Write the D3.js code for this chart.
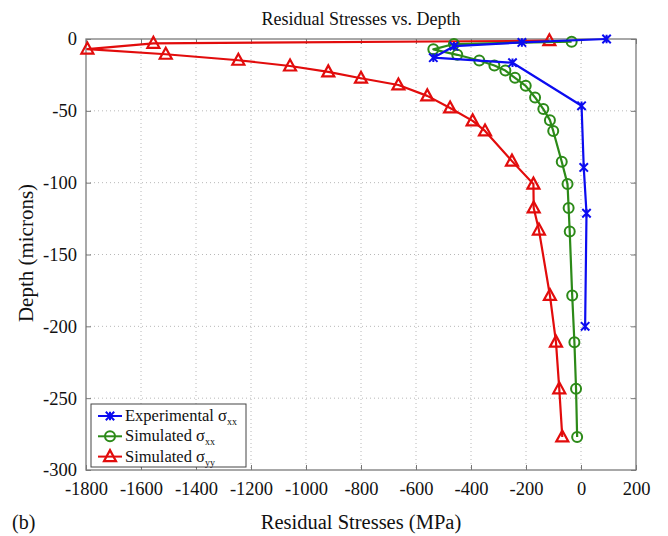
<!DOCTYPE html>
<html>
<head>
<meta charset="utf-8">
<script src="https://cdn.jsdelivr.net/npm/d3@7"></script>
<style>
  html, body { margin: 0; padding: 0; background: #ffffff; }
  svg { display: block; }
  svg text { font-family: "Liberation Serif", "DejaVu Serif", serif; }
</style>
</head>
<body>
<svg id="chart" width="668" height="536"></svg>
<script>
// Residual stress profiles: [stress (MPa), depth (microns)]
const experimentalSxx = [
  [93, 0], [-215, -2.4], [-462, -5], [-537, -13], [-249, -16.5],
  [2, -46.5], [10, -89.4], [20, -121.3], [15, -200]
];
const simulatedSxx = [
  [-34, -1.9], [-462, -3.5], [-537, -7.2], [-450, -11], [-370, -15],
  [-315, -18.5], [-275, -22], [-240, -27], [-201, -32.6], [-167, -40.7],
  [-137, -48.8], [-113, -56.5], [-101, -64], [-70, -85.4], [-49, -101],
  [-45, -117.6], [-41, -134], [-32, -178.5], [-24, -211], [-18, -243.5],
  [-14, -277]
];
const simulatedSyy = [
  [-115, -1.2], [-1555, -3], [-1795, -7], [-1510, -10.6], [-1246, -14.8],
  [-1058, -18.8], [-919, -22.9], [-800, -27.3], [-664, -32], [-559, -39.6],
  [-476, -48], [-394, -57], [-349, -64], [-251, -85], [-173, -101],
  [-172, -117.6], [-153, -133], [-113, -178.5], [-91, -211], [-79, -243.5],
  [-68, -277]
];

const xTicks = [-1800, -1600, -1400, -1200, -1000, -800, -600, -400, -200, 0, 200];
const yTicks = [0, -50, -100, -150, -200, -250, -300];

const series = [
  { name: "Experimental", sub: "xx", data: experimentalSxx, color: "#0c0cf0", marker: "x" },
  { name: "Simulated", sub: "xx", data: simulatedSxx, color: "#2c8a18", marker: "o" },
  { name: "Simulated", sub: "yy", data: simulatedSyy, color: "#e20c0c", marker: "^" }
];

const svg = d3.select("#chart");
const plot = { left: 86, right: 636, top: 39, bottom: 470 };

const x = d3.scaleLinear().domain([-1800, 200]).range([plot.left, plot.right]);
const y = d3.scaleLinear().domain([-300, 0]).range([plot.bottom, plot.top]);

// dotted grid
const grid = svg.append("g");
grid.selectAll("line.gx").data(xTicks.slice(1, -1)).join("line")
  .attr("x1", d => x(d)).attr("x2", d => x(d))
  .attr("y1", plot.top).attr("y2", plot.bottom)
  .attr("stroke", "#b8b8b8").attr("stroke-width", 1).attr("stroke-dasharray", "1,3");
grid.selectAll("line.gy").data(yTicks.slice(1, -1)).join("line")
  .attr("y1", d => y(d)).attr("y2", d => y(d))
  .attr("x1", plot.left).attr("x2", plot.right)
  .attr("stroke", "#b8b8b8").attr("stroke-width", 1).attr("stroke-dasharray", "1,3");

// axes with inward ticks; labels use a plain hyphen for negatives
const fmt = d => String(d);
const xAxis = svg.append("g").attr("transform", `translate(0,${plot.bottom})`)
  .call(d3.axisBottom(x).tickValues(xTicks).tickSizeInner(-5).tickSizeOuter(0).tickPadding(12).tickFormat(fmt));
const yAxis = svg.append("g").attr("transform", `translate(${plot.left},0)`)
  .call(d3.axisLeft(y).tickValues(yTicks).tickSizeInner(-5).tickSizeOuter(0).tickPadding(9).tickFormat(fmt));
svg.append("g").attr("transform", `translate(0,${plot.top})`)
  .call(d3.axisTop(x).tickValues(xTicks).tickSizeInner(-5).tickSizeOuter(0).tickFormat(""));
svg.append("g").attr("transform", `translate(${plot.right},0)`)
  .call(d3.axisRight(y).tickValues(yTicks).tickSizeInner(-5).tickSizeOuter(0).tickFormat(""));

svg.selectAll(".domain").remove();
svg.selectAll(".tick line").attr("stroke", "#777");
[xAxis, yAxis].forEach(a => a.selectAll("text")
  .style("font-family", "'Liberation Serif', serif").style("font-size", "18.5px").attr("fill", "#111"));
xAxis.selectAll("text").attr("dy", "0.71em");

// plot frame
svg.append("rect")
  .attr("x", plot.left).attr("y", plot.top)
  .attr("width", plot.right - plot.left).attr("height", plot.bottom - plot.top)
  .attr("fill", "none").attr("stroke", "#7a7a7a").attr("stroke-width", 1.3);

// markers
function drawMarker(g, type, color) {
  if (type === "x") {
    const s = 4.2;
    g.append("path").attr("d", `M${-s},${-s}L${s},${s}M${-s},${s}L${s},${-s}M0,${-s}L0,${s}`)
      .attr("stroke", color).attr("stroke-width", 2).attr("fill", "none");
  } else if (type === "o") {
    g.append("circle").attr("r", 5).attr("fill", "none")
      .attr("stroke", color).attr("stroke-width", 2);
  } else {
    g.append("path").attr("d", "M0,-6.5L6,4.5L-6,4.5Z").attr("fill", "none")
      .attr("stroke", color).attr("stroke-width", 2.2).attr("stroke-linejoin", "miter");
  }
}

const line = d3.line().x(d => x(d[0])).y(d => y(d[1]));
svg.append("clipPath").attr("id", "plotclip").append("rect")
  .attr("x", plot.left - 8).attr("y", plot.top - 8)
  .attr("width", plot.right - plot.left + 16).attr("height", plot.bottom - plot.top + 16);

// draw in reverse so the experimental curve sits on top
series.slice().reverse().forEach(s => {
  const g = svg.append("g").attr("clip-path", "url(#plotclip)");
  g.append("path").datum(s.data).attr("d", line)
    .attr("fill", "none").attr("stroke", s.color).attr("stroke-width", 2.2)
    .attr("stroke-linejoin", "round");
  g.selectAll("g.m").data(s.data).join("g")
    .attr("transform", d => `translate(${x(d[0])},${y(d[1])})`)
    .each(function () { drawMarker(d3.select(this), s.marker, s.color); });
});

// legend
const lg = svg.append("g");
lg.append("rect").attr("x", 91).attr("y", 404).attr("width", 155).attr("height", 63)
  .attr("fill", "#ffffff").attr("stroke", "#444").attr("stroke-width", 1);
series.forEach((s, i) => {
  const cy = 416 + i * 20.3;
  lg.append("line").attr("x1", 98).attr("x2", 122).attr("y1", cy).attr("y2", cy)
    .attr("stroke", s.color).attr("stroke-width", 2);
  drawMarker(lg.append("g").attr("transform", `translate(110,${cy})`), s.marker, s.color);
  const t = lg.append("text").attr("x", 125).attr("y", cy + 5)
    .style("font-size", "16.5px").attr("fill", "#111");
  t.append("tspan").text(s.name + " σ");
  t.append("tspan").style("font-size", "10px").attr("dy", 4).text(s.sub);
});

// titles
svg.append("text").attr("x", 361).attr("y", 25).attr("text-anchor", "middle")
  .style("font-size", "18px").attr("fill", "#111").text("Residual Stresses vs. Depth");
svg.append("text").attr("x", 361).attr("y", 529).attr("text-anchor", "middle")
  .style("font-size", "20.5px").attr("fill", "#111").text("Residual Stresses (MPa)");
svg.append("text").attr("transform", "translate(33,253) rotate(-90)").attr("text-anchor", "middle")
  .style("font-size", "21px").attr("fill", "#111").text("Depth (microns)");
svg.append("text").attr("x", 12).attr("y", 529)
  .style("font-size", "20px").attr("fill", "#111").text("(b)");
</script>
</body>
</html>
